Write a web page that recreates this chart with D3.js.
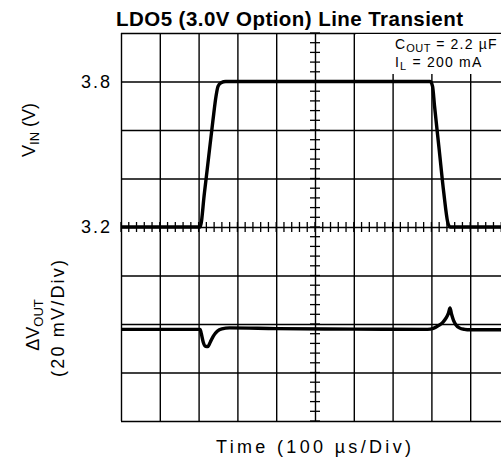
<!DOCTYPE html>
<html>
<head>
<meta charset="utf-8">
<script src="https://cdn.jsdelivr.net/npm/d3@7"></script>
<style>
  body { margin: 0; background: #fff; }
  svg { display: block; }
  text { font-family: "Liberation Sans", Arial, sans-serif; fill: #000; }
  .lbl { font-size: 18px; }
</style>
</head>
<body>
<svg width="501" height="458"></svg>
<script>
// time in us, VIN in volts, dVout in mV
const vinT = [0, 204, 215, 226, 237, 245, 250, 258, 270, 797, 803, 808, 820, 832, 842, 848, 856, 1000];
const vinV = [3.2, 3.2, 3.34, 3.49, 3.64, 3.74, 3.78, 3.795, 3.8, 3.8, 3.78, 3.7, 3.52, 3.34, 3.22, 3.2, 3.2, 3.2];

const voutT = [0, 204, 207, 212, 218, 224, 230, 238, 248, 260, 280, 400, 600, 790, 805, 820, 830, 838, 844, 848, 852, 857, 863, 872, 885, 900, 1000];
const voutV = [-2.2, -2.2, -4, -7.5, -9.2, -9.3, -7.5, -5, -3, -2, -1.6, -1.9, -2.1, -2.2, -1.8, -0.5, 0.8, 2.5, 4.5, 6.6, 4, 1.5, -0.3, -1.6, -2.2, -2.4, -2.4];

const gridT = d3.range(0, 1001, 100);
const gridV = d3.range(0, 9).map(i => +(2.4 + i * 0.2).toFixed(1));
const minorT = d3.range(0, 1001, 20);
const minorV = d3.range(0, 41).map(i => +(2.4 + i * 0.04).toFixed(2));
const vinLabels = [3.2, 3.8];

const svg = d3.select("svg");
const pLeft = 121, pTop = 33, pBottom = 421, pRight = 509;

const x = d3.scaleLinear().domain([0, 1000]).range([pLeft, pRight]);
const yIn = d3.scaleLinear().domain([2.4, 4.0]).range([pBottom, pTop]);
const yOut = d3.scaleLinear().domain([-40, 120]).range([pBottom, pTop]);

// grid
svg.append("g")
  .attr("transform", `translate(0,${pBottom})`)
  .call(d3.axisBottom(x).tickValues(gridT).tickSize(-(pBottom - pTop)).tickFormat(""))
  .call(g => g.select(".domain").remove())
  .selectAll("line").attr("stroke", "#000").attr("stroke-width", 1.4);

svg.append("g")
  .attr("transform", `translate(${pLeft},0)`)
  .call(d3.axisLeft(yIn).tickValues(gridV).tickSize(-(pRight - pLeft)).tickFormat(""))
  .call(g => g.select(".domain").remove())
  .selectAll("line").attr("stroke", "#000").attr("stroke-width", 1.4);

// minor ticks on the centre axes
const cx = x(500), cy = yIn(3.2);
svg.append("g").selectAll("line")
  .data(minorT)
  .join("line")
  .attr("x1", d => x(d)).attr("x2", d => x(d))
  .attr("y1", cy - 5).attr("y2", cy + 5)
  .attr("stroke", "#000").attr("stroke-width", 1.3);
svg.append("g").selectAll("line")
  .data(minorV)
  .join("line")
  .attr("x1", cx - 5).attr("x2", cx + 5)
  .attr("y1", d => yIn(d)).attr("y2", d => yIn(d))
  .attr("stroke", "#000").attr("stroke-width", 1.3);

// white box behind the conditions
svg.append("rect")
  .attr("x", 356).attr("y", pTop + 1)
  .attr("width", 501 - 356).attr("height", 40)
  .attr("fill", "#fff");

// tick labels
svg.append("g")
  .attr("transform", `translate(${pLeft},0)`)
  .call(d3.axisLeft(yIn).tickValues(vinLabels).tickSize(0).tickPadding(9).tickFormat(d3.format(".1f")))
  .call(g => g.select(".domain").remove())
  .selectAll("text")
  .style("font-size", "18px")
  .style("letter-spacing", "2px")
  .style("font-family", "'Liberation Sans', Arial, sans-serif");

// traces
const line = d3.line().curve(d3.curveMonotoneX);
svg.append("path")
  .attr("d", line(vinT.map((t, i) => [x(t), yIn(vinV[i])])))
  .attr("fill", "none").attr("stroke", "#000").attr("stroke-width", 3.4);
svg.append("path")
  .attr("d", line(voutT.map((t, i) => [x(t), yOut(voutV[i])])))
  .attr("fill", "none").attr("stroke", "#000").attr("stroke-width", 3.4);

// title
svg.append("text")
  .attr("x", 116).attr("y", 26)
  .attr("textLength", 347).attr("lengthAdjust", "spacing")
  .style("font-weight", "bold").style("font-size", "20.5px")
  .text("LDO5 (3.0V Option) Line Transient");

// x label
svg.append("text")
  .attr("class", "lbl")
  .attr("x", 216).attr("y", 453)
  .attr("textLength", 195).attr("lengthAdjust", "spacing")
  .text("Time (100 \u00b5s/Div)");

// y labels
const vinLab = svg.append("text")
  .attr("class", "lbl")
  .attr("transform", "translate(35,130) rotate(-90)")
  .attr("text-anchor", "middle");
vinLab.append("tspan").text("V");
vinLab.append("tspan").attr("dy", 4).style("font-size", "13px").text("IN");
vinLab.append("tspan").attr("dy", -4).text("  (V)");

const dLab = svg.append("text")
  .attr("class", "lbl")
  .attr("transform", "translate(39,325) rotate(-90)")
  .attr("text-anchor", "middle");
dLab.append("tspan").text("\u0394V");
dLab.append("tspan").attr("dy", 4).style("font-size", "13px").text("OUT");

svg.append("text")
  .attr("class", "lbl")
  .attr("transform", "translate(64,377) rotate(-90)")
  .attr("textLength", 117).attr("lengthAdjust", "spacing")
  .text("(20 mV/Div)");

// conditions
const c1 = svg.append("text").attr("x", 395).attr("y", 49).style("font-size", "14px").style("letter-spacing", "1.2px");
c1.append("tspan").text("C");
c1.append("tspan").attr("dy", 3).style("font-size", "11px").style("letter-spacing", "0.5px").text("OUT");
c1.append("tspan").attr("dy", -3).text(" = 2.2 \u00b5F");

const c2 = svg.append("text").attr("x", 395).attr("y", 67).style("font-size", "14px").style("letter-spacing", "1.2px");
c2.append("tspan").text("I");
c2.append("tspan").attr("dy", 3).style("font-size", "11px").text("L");
c2.append("tspan").attr("dy", -3).text("  =  200 mA");
</script>
</body>
</html>
